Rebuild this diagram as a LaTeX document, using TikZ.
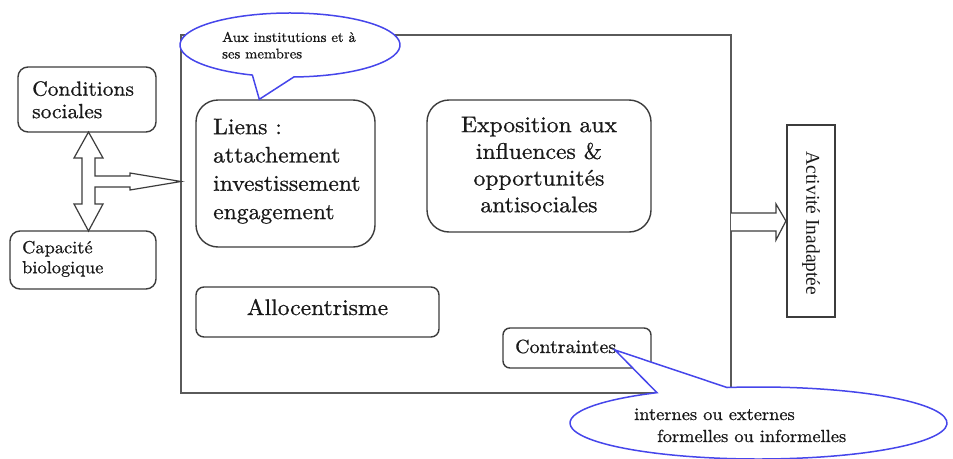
\documentclass[tikz,border=0pt]{standalone}
\usepackage{fontspec}
\setmainfont{lmroman10-regular}[Extension=.otf, FakeStretch=1.05, FakeBold=0.8]
\newfontfamily\timesfont{Liberation Serif}
\usetikzlibrary{calc}
\definecolor{boxgray}{RGB}{60,60,60}
\definecolor{framegray}{RGB}{90,90,90}
\definecolor{callblue}{RGB}{70,70,235}
\definecolor{txtgray}{RGB}{25,25,25}
\begin{document}
\begin{tikzpicture}[x=1pt,y=-1pt,
  rbox/.style={draw=boxgray, line width=1.4pt, rounded corners=#1, inner sep=0pt, fill=white},
  txt/.style={inner sep=0pt, text=txtgray},
  blockarrow/.style={draw=boxgray, line width=1.2pt, fill=white, line join=miter},
  callout/.style={draw=callblue, line width=1.5pt, fill=white, line join=miter},
]
\fill[white] (0,0) rectangle (953,458);
\useasboundingbox (0,0) rectangle (953,458);

% main frame
\draw[framegray, line width=1.2pt] (181,35) rectangle (731,393);
\coordinate (frameW) at (181,181.5);

% left boxes
\node[rbox=10pt, minimum width=138pt, minimum height=65pt] (cs) at (87,99.5) {};
\node[txt, font=\fontsize{20.5}{22.5}\selectfont, anchor=north west, align=left] (cstext) at (32,81) {Conditions\\sociales};
\node[rbox=10pt, minimum width=146pt, minimum height=58pt] (cb) at (83,260) {};
\node[txt, font=\fontsize{17.5}{20}\selectfont, anchor=north west, align=left] (cbtext) at (22,240.7) {Capacité\\biologique};

% left block double arrow with branch
\draw[blockarrow] (88.5,132) -- (103,158) -- (95,158) -- (95,176) -- (130,176) -- (130,173)
  -- (frameW) -- (130,190) -- (130,187) -- (95,187) -- (95,204) -- (103,204)
  -- (88.5,231) -- (74,204) -- (82,204) -- (82,158) -- (74,158) -- cycle;

% inner boxes
\node[rbox=22pt, minimum width=179pt, minimum height=147pt] (liens) at (285.5,173.5) {};
\node[txt, font=\fontsize{22.5}{28.3}\selectfont, anchor=north west, align=left] (lienstext) at (213,118.6)
  {Liens :\\attachement\\investissement\\engagement};
\node[rbox=22pt, minimum width=224pt, minimum height=132pt] (expo) at (539,166) {};
\node[txt, font=\fontsize{22.5}{26.7}\selectfont, anchor=north, align=center] (expotext) at (539,116.6)
  {Exposition aux\\influences \&\\opportunités\\antisociales};
\node[rbox=8pt, minimum width=243pt, minimum height=50pt] (allo) at (317.5,312) {};
\node[txt, font=\fontsize{22.5}{27}\selectfont, anchor=base] (allotext) at (317.5,315) {Allocentrisme};
\node[rbox=7pt, minimum width=148pt, minimum height=40pt] (contr) at (577,348) {};
\node[txt, font=\fontsize{19}{22}\selectfont, anchor=base west] (contrtext) at (515,353) {Contraintes};

% output box
\node[draw=boxgray, line width=2.2pt, fill=white, minimum width=48pt, minimum height=192pt, inner sep=0pt] (act) at (811,221) {};
\node[txt, rotate=-90, font=\timesfont\fontsize{19.5}{22}\selectfont] (acttext) at (811,223.5) {Activité Inadaptée};

% right block arrow
\draw[blockarrow] (731,213) -- (776,213) -- (776,204) -- (act.west) -- (776,240) -- (776,231) -- (731,231);

% top callout
\coordinate (tipA) at ($(liens.north west)+(64,0)$);
\draw[callout] (290,45) ++(110:110 and 32) arc[start angle=110, end angle=448, x radius=110, y radius=32] -- (tipA) -- cycle;
\node[txt, font=\fontsize{14}{16.5}\selectfont, anchor=north west, align=left] (calltext) at (222,31.7)
  {Aux institutions et à\\ses membres};

% bottom callout
\coordinate (tipB) at (615,350);
\draw[callout] (758.5,423) ++(260.4:188.5 and 36) arc[start angle=260.4, end angle=597.4, x radius=188.5, y radius=36] -- (tipB) -- cycle;
\node[txt, font=\fontsize{17.5}{22}\selectfont, anchor=base west] (callb1) at (634,420) {internes ou externes};
\node[txt, font=\fontsize{17.5}{22}\selectfont, anchor=base west] (callb2) at (657,442) {formelles ou\hspace{6pt}informelles};
\end{tikzpicture}
\end{document}
